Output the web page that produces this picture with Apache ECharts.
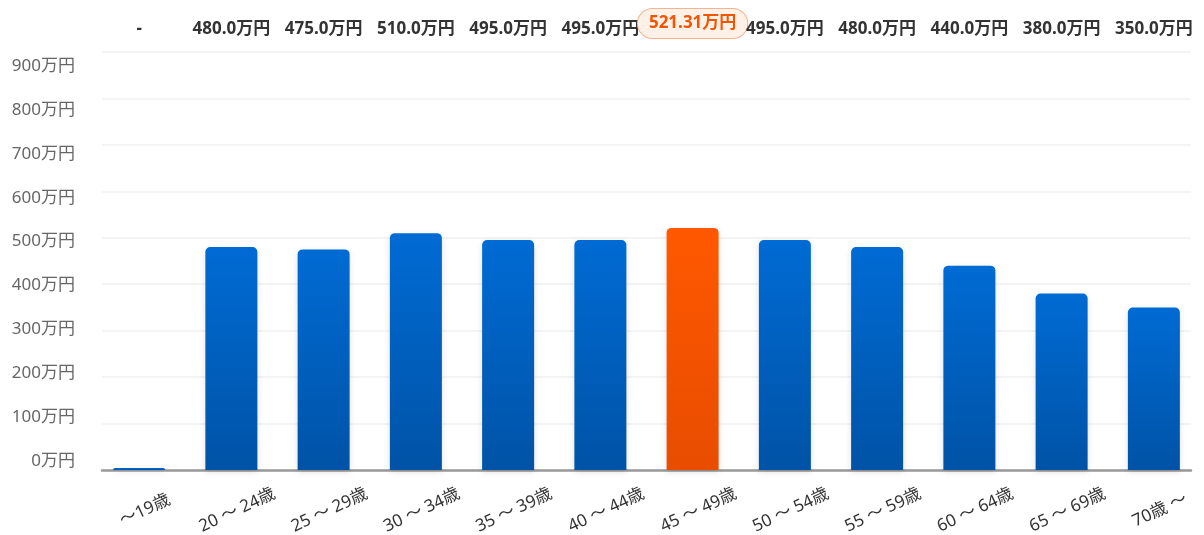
<!DOCTYPE html>
<html>
<head>
<meta charset="utf-8">
<script src="https://cdn.jsdelivr.net/npm/echarts@6/dist/echarts.min.js"></script>
<style>
    html, body { margin: 0; padding: 0; background: #fff; }
    #chart { width: 1204px; height: 535px; }
</style>
</head>
<body>
<div id="chart"></div>
<script>
// 年齢別 平均年収
const categories = ['〜19歳', '20 〜 24歳', '25 〜 29歳', '30 〜 34歳', '35 〜 39歳', '40 〜 44歳', '45 〜 49歳', '50 〜 54歳', '55 〜 59歳', '60 〜 64歳', '65 〜 69歳', '70歳 〜'];
const values = [0, 480, 475, 510, 495, 495, 521.31, 495, 480, 440, 380, 350];
const topLabels = ['-', '480.0万円', '475.0万円', '510.0万円', '495.0万円', '495.0万円', '521.31万円', '495.0万円', '480.0万円', '440.0万円', '380.0万円', '350.0万円'];
const highlightIndex = 6;
const yMax = 900;
const yInterval = 100;

const FONT = '"Noto Sans", "Noto Sans CJK JP", sans-serif';

const blue = new echarts.graphic.LinearGradient(0, 0, 0, 1, [
    { offset: 0, color: '#006bd4' },
    { offset: 1, color: '#0053a6' }
]);
const orange = new echarts.graphic.LinearGradient(0, 0, 0, 1, [
    { offset: 0, color: '#ff5800' },
    { offset: 1, color: '#e84d00' }
]);

const chart = echarts.init(document.getElementById('chart'), null, { renderer: 'canvas' });

const hiddenX = (gridIndex) => ({ type: 'category', gridIndex, data: categories, show: false });

chart.setOption({
    backgroundColor: '#fff',
    animation: false,
    textStyle: { fontFamily: FONT },
    grid: [
        { left: 102, right: 13, top: 52, bottom: 65, outerBoundsMode: 'none' },   // split lines + axis line
        { left: 93, right: 4, top: 52, bottom: 65, outerBoundsMode: 'none' },     // bars
        { left: 102, right: 13, top: 66, bottom: 74, outerBoundsMode: 'none' }    // y labels (spaced a bit tighter in the original)
    ],
    xAxis: [
        {
            type: 'category', gridIndex: 0, data: categories,
            axisLine: { lineStyle: { color: '#999', width: 2.5 } },
            axisTick: { show: false }, axisLabel: { show: false }
        },
        {
            type: 'category', gridIndex: 1, data: categories,
            axisLine: { show: false }, axisTick: { show: false },
            axisLabel: {
                rotate: 25, align: 'center', verticalAlign: 'middle', margin: 43,
                padding: [0, 0, 0, 13],
                color: '#333', fontSize: 17, fontFamily: FONT
            }
        },
        {
            type: 'category', gridIndex: 1, position: 'top', data: topLabels,
            axisLine: { show: false }, axisTick: { show: false },
            axisLabel: {
                margin: 14, interval: 0,
                formatter: (v, i) => i === highlightIndex ? '{hl|' + v + '}' : '{n|' + v + '}',
                rich: {
                    n: { color: '#333', fontSize: 17, fontWeight: 'bold', fontFamily: FONT },
                    hl: {
                        color: '#f25500', fontSize: 17, fontWeight: 'bold', fontFamily: FONT,
                        backgroundColor: '#fff1e8', borderColor: '#f7b48c', borderWidth: 1,
                        borderRadius: 16, padding: [6, 11]
                    }
                }
            }
        },
        hiddenX(2)
    ],
    yAxis: [
        {
            type: 'value', gridIndex: 0, min: 0, max: yMax, interval: yInterval,
            axisLine: { show: false }, axisTick: { show: false }, axisLabel: { show: false },
            splitLine: { lineStyle: { color: '#f0f0f0', width: 1.5 } }
        },
        {
            type: 'value', gridIndex: 1, min: 0, max: yMax, interval: yInterval,
            show: false, splitLine: { show: false }
        },
        {
            type: 'value', gridIndex: 2, min: 0, max: yMax, interval: yInterval,
            axisLine: { show: false }, axisTick: { show: false }, splitLine: { show: false },
            axisLabel: { color: '#666', fontSize: 17, margin: 27, formatter: '{value}万円', fontFamily: FONT }
        }
    ],
    series: [{
        type: 'bar',
        xAxisIndex: 1,
        yAxisIndex: 1,
        barWidth: 52,
        barMinHeight: 2,
        data: values.map((v, i) => ({
            value: v,
            itemStyle: { color: i === highlightIndex ? orange : blue }
        })),
        itemStyle: {
            borderRadius: [5, 5, 0, 0],
            shadowBlur: 6,
            shadowColor: 'rgba(0,0,0,0.12)',
            shadowOffsetY: 2
        }
    }]
});
</script>
</body>
</html>
